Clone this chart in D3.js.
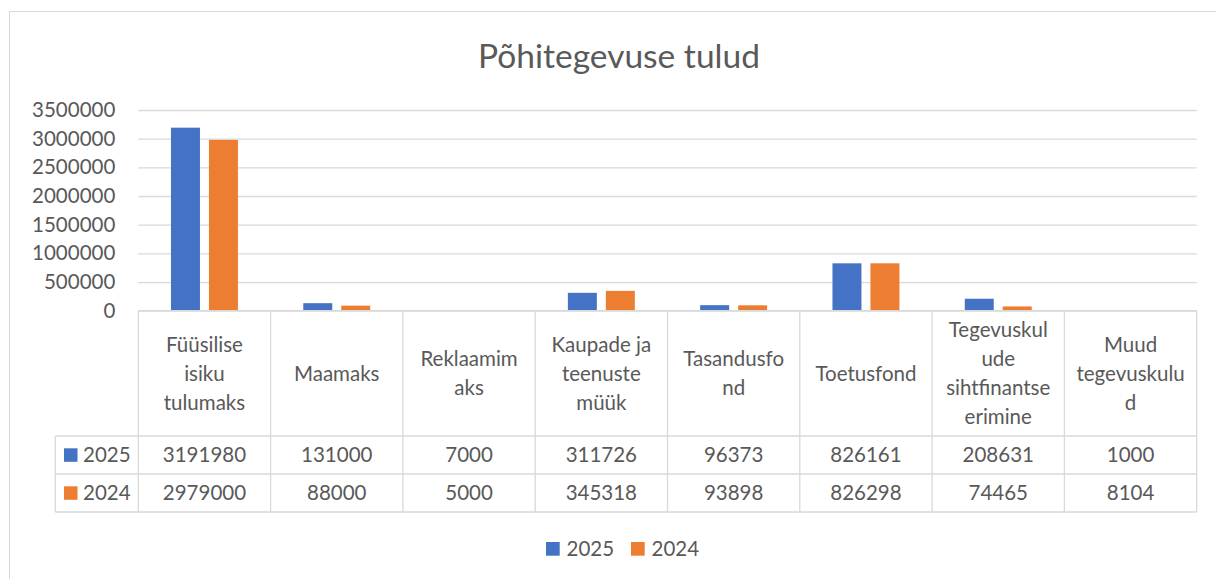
<!DOCTYPE html>
<html>
<head>
<meta charset="utf-8">
<script src="https://cdn.jsdelivr.net/npm/d3@7"></script>
<style>
  html, body { margin: 0; padding: 0; background: #fff; }
  svg { display: block; font-family: Lato, "Open Sans", sans-serif; }
</style>
</head>
<body>
<div id="chart"></div>
<script>
// chart data
const title = "Põhitegevuse tulud"
const categories = ["Füüsilise isiku tulumaks", "Maamaks", "Reklaamimaks", "Kaupade ja teenuste müük",
                    "Tasandusfond", "Toetusfond", "Tegevuskulude sihtfinantseerimine", "Muud tegevuskulud"]
// how the category names are wrapped in the table header
const categoryLines = [["Füüsilise", "isiku", "tulumaks"], ["Maamaks"], ["Reklaamim", "aks"],
                       ["Kaupade ja", "teenuste", "müük"], ["Tasandusfo", "nd"], ["Toetusfond"],
                       ["Tegevuskul", "ude", "sihtfinantse", "erimine"], ["Muud", "tegevuskulu", "d"]]
const seriesNames = ["2025", "2024"]
const values2025 = [3191980, 131000, 7000, 311726, 96373, 826161, 208631, 1000]
const values2024 = [2979000, 88000, 5000, 345318, 93898, 826298, 74465, 8104]
const yTicks = [0, 500000, 1000000, 1500000, 2000000, 2500000, 3000000, 3500000]

const seriesValues = [values2025, values2024]
const colors = ["#4472C4", "#ED7D31"]
const textColor = "#595959"
const lineColor = "#d9d9d9"

const width = 1216, height = 579
const plot = { left: 138.3, right: 1196.7, top: 110, bottom: 310.7 }
const tableLeft = 55.3
const rowLines = [310.7, 436, 474, 512]   // header top, row 2025 top, row 2024 top, bottom
const fontSize = 20.5

const svg = d3.select("#chart").append("svg")
    .attr("width", width)
    .attr("height", height)

// chart frame
svg.append("rect")
    .attr("x", 9.5).attr("y", 11.5)
    .attr("width", 1230).attr("height", 600)
    .attr("fill", "#fff")
    .attr("stroke", lineColor)

svg.append("text")
    .attr("x", 619).attr("y", 68)
    .attr("text-anchor", "middle")
    .attr("fill", textColor)
    .attr("font-size", 33.5)
    .text(title)

const x = d3.scaleBand()
    .domain(categories)
    .range([plot.left, plot.right])

const xs = d3.scaleBand()
    .domain(seriesNames)
    .range([0, x.bandwidth()])
    .paddingInner(0.237)
    .paddingOuter(0.86)

const y = d3.scaleLinear()
    .domain([0, 3500000])
    .range([plot.bottom, plot.top])

// gridlines
svg.append("g")
    .attr("transform", `translate(${plot.left},0)`)
    .call(d3.axisLeft(y).tickValues(yTicks).tickSize(-(plot.right - plot.left)).tickFormat(""))
    .call(g => g.select(".domain").remove())
    .call(g => g.selectAll("line").attr("stroke", lineColor).attr("stroke-width", 1.3))

// y labels
svg.append("g")
    .attr("transform", `translate(${plot.left},0)`)
    .call(d3.axisLeft(y).tickValues(yTicks).tickSize(0).tickPadding(23).tickFormat(d3.format("d")))
    .call(g => g.select(".domain").remove())
    .call(g => g.selectAll("text")
        .attr("fill", textColor)
        .attr("font-size", fontSize)
        .attr("font-family", "Lato, 'Open Sans', sans-serif"))

// bars
const rows = categories.map((c, i) => ({ cat: c, vals: seriesNames.map((s, j) => ({ s, v: seriesValues[j][i], j })) }))

svg.append("g").selectAll("g")
    .data(rows)
    .join("g")
    .attr("transform", d => `translate(${x(d.cat)},0)`)
    .selectAll("rect")
    .data(d => d.vals)
    .join("rect")
    .attr("x", d => xs(d.s))
    .attr("y", d => y(d.v))
    .attr("width", xs.bandwidth())
    .attr("height", d => y(0) - y(d.v))
    .attr("fill", d => colors[d.j])

// data table
const table = svg.append("g").attr("stroke", lineColor).attr("stroke-width", 1.3)

table.append("line")
    .attr("x1", plot.left).attr("x2", plot.right)
    .attr("y1", rowLines[0]).attr("y2", rowLines[0])
table.selectAll(".hrow")
    .data(rowLines.slice(1))
    .join("line")
    .attr("x1", tableLeft).attr("x2", plot.right)
    .attr("y1", d => d).attr("y2", d => d)
table.append("line")
    .attr("x1", tableLeft).attr("x2", tableLeft)
    .attr("y1", rowLines[1]).attr("y2", rowLines[3])
table.selectAll(".vcol")
    .data(categories.map(c => x(c)).concat([plot.right]))
    .join("line")
    .attr("x1", d => d).attr("x2", d => d)
    .attr("y1", rowLines[0]).attr("y2", rowLines[3])

const lineHeight = 29
const headerMid = (rowLines[0] + rowLines[1]) / 2

svg.append("g").selectAll("text")
    .data(categories)
    .join("text")
    .attr("x", d => x(d) + x.bandwidth() / 2)
    .attr("text-anchor", "middle")
    .attr("fill", textColor)
    .attr("font-size", fontSize)
    .each(function(d, i) {
        const lines = categoryLines[i]
        const first = headerMid - (lines.length - 1) * lineHeight / 2
        d3.select(this).selectAll("tspan")
            .data(lines)
            .join("tspan")
            .attr("x", x(d) + x.bandwidth() / 2)
            .attr("y", (l, k) => first + k * lineHeight)
            .attr("dy", "0.35em")
            .text(l => l)
    })

seriesNames.forEach((s, j) => {
    const mid = (rowLines[j + 1] + rowLines[j + 2]) / 2
    svg.append("rect")
        .attr("x", 64).attr("y", mid - 6.7)
        .attr("width", 13.5).attr("height", 13.5)
        .attr("fill", colors[j])
    svg.append("text")
        .attr("x", 83).attr("y", mid)
        .attr("dy", "0.35em")
        .attr("fill", textColor)
        .attr("font-size", fontSize)
        .text(s)
    svg.append("g").selectAll("text")
        .data(categories)
        .join("text")
        .attr("x", d => x(d) + x.bandwidth() / 2)
        .attr("y", mid)
        .attr("dy", "0.35em")
        .attr("text-anchor", "middle")
        .attr("fill", textColor)
        .attr("font-size", fontSize)
        .text((d, i) => seriesValues[j][i])
})

// legend
const legendX = [546, 631]
seriesNames.forEach((s, j) => {
    svg.append("rect")
        .attr("x", legendX[j]).attr("y", 542)
        .attr("width", 13.7).attr("height", 13.7)
        .attr("fill", colors[j])
    svg.append("text")
        .attr("x", legendX[j] + 20.5).attr("y", 549)
        .attr("dy", "0.35em")
        .attr("fill", textColor)
        .attr("font-size", fontSize)
        .text(s)
})
</script>
</body>
</html>
